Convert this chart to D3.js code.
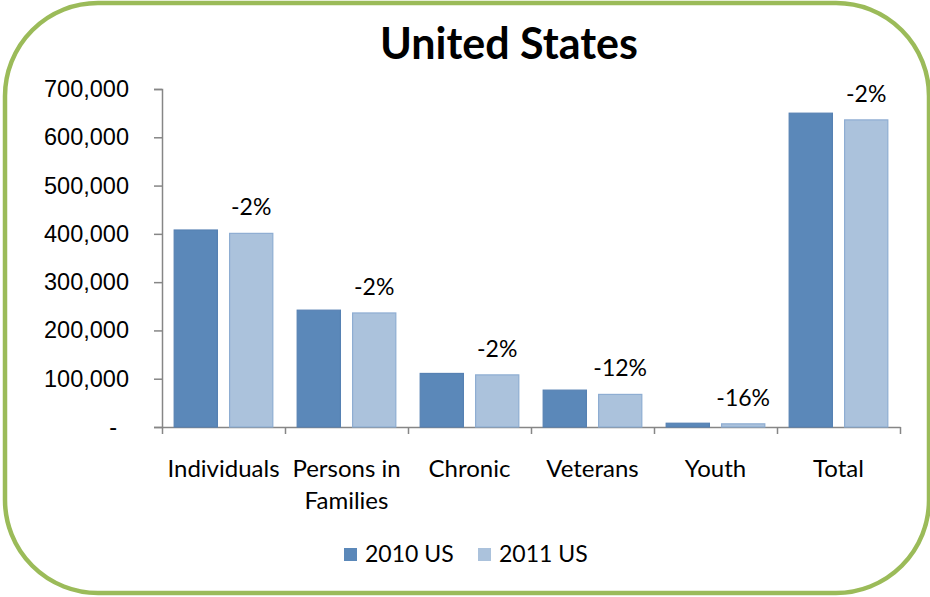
<!DOCTYPE html>
<html>
<head>
<meta charset="utf-8">
<script src="https://cdn.jsdelivr.net/npm/d3@7"></script>
<style>
  body { margin: 0; background: #fff; }
  svg { display: block; font-family: Lato, "Open Sans", sans-serif; }
</style>
</head>
<body>
<svg id="chart"></svg>
<script>
// data
const categories = ['Individuals', 'Persons in Families', 'Chronic', 'Veterans', 'Youth', 'Total'];
const seriesNames = ['2010 US', '2011 US'];
const values2010 = [407966, 241951, 110917, 76329, 7800, 649917];
const values2011 = [401012, 236181, 107937, 67495, 6550, 636017];
const changeLabels = ['-2%', '-2%', '-2%', '-12%', '-16%', '-2%'];
const yTicks = [0, 100000, 200000, 300000, 400000, 500000, 600000, 700000];

const colors = { '2010 US': '#5b88b9', '2011 US': '#abc2dc' };
const strokes = { '2010 US': '#5681b3', '2011 US': '#8eadd2' };

const width = 930;
const height = 597;

const svg = d3.select('#chart')
  .attr('width', width)
  .attr('height', height);

// rounded green frame
svg.append('rect')
  .attr('x', 5)
  .attr('y', 3)
  .attr('width', 924)
  .attr('height', 590)
  .attr('rx', 93)
  .attr('ry', 93)
  .attr('fill', '#fff')
  .attr('stroke', '#9bbb59')
  .attr('stroke-width', 4.5);

svg.append('text')
  .attr('x', 509)
  .attr('y', 59)
  .attr('text-anchor', 'middle')
  .style('font-size', '43px')
  .style('font-weight', 'bold')
  .text('United States');

const x0 = d3.scaleBand()
  .domain(categories)
  .range([162, 900])
  .padding(0);

const x1 = d3.scaleBand()
  .domain(seriesNames)
  .range([0, x0.bandwidth()])
  .paddingInner(0.22)
  .paddingOuter(0.22);

const y = d3.scaleLinear()
  .domain([0, 700000])
  .range([427, 89]);

// y axis
const yAxis = svg.append('g')
  .attr('transform', 'translate(162,0)')
  .call(d3.axisLeft(y)
    .tickValues(yTicks)
    .tickSize(8)
    .tickPadding(25)
    .tickFormat((d) => (d === 0 ? '-' : d3.format(',')(d))));

yAxis.select('.domain').attr('stroke', '#868686').attr('stroke-width', 1.5);
yAxis.selectAll('.tick line').attr('stroke', '#868686').attr('stroke-width', 1.5);
yAxis.selectAll('.tick text')
  .style('font-size', '23.5px')
  .attr('fill', '#000')
  .attr('dx', (d) => (d === 0 ? -12 : 0));

// x axis with ticks on category boundaries
const xEdges = d3.scaleLinear().domain([0, categories.length]).range([162, 900]);
const xAxis = svg.append('g')
  .attr('transform', 'translate(0,427)')
  .call(d3.axisBottom(xEdges)
    .tickValues(d3.range(categories.length + 1))
    .tickSize(7)
    .tickSizeOuter(0)
    .tickFormat(''));
xAxis.select('.domain').attr('stroke', '#868686').attr('stroke-width', 1.5);
xAxis.selectAll('.tick line').attr('stroke', '#868686').attr('stroke-width', 1.5);

// category labels, wrapped like the original
const catLabels = svg.append('g')
  .selectAll('text')
  .data(categories)
  .join('text')
  .attr('x', (d) => x0(d) + x0.bandwidth() / 2)
  .attr('y', 477)
  .attr('text-anchor', 'middle')
  .style('font-size', '24px');

catLabels.each(function (d) {
  const lines = d === 'Persons in Families' ? ['Persons in', 'Families'] : [d];
  d3.select(this).selectAll('tspan')
    .data(lines)
    .join('tspan')
    .attr('x', x0(d) + x0.bandwidth() / 2)
    .attr('dy', (l, i) => (i === 0 ? 0 : 32))
    .text((l) => l);
});

// bars
const rows = categories.map((c, i) => ({
  category: c,
  values: [
    { key: '2010 US', value: values2010[i] },
    { key: '2011 US', value: values2011[i] },
  ],
  label: changeLabels[i],
}));

const groups = svg.append('g')
  .selectAll('g')
  .data(rows)
  .join('g')
  .attr('transform', (d) => `translate(${x0(d.category)},0)`);

groups.selectAll('rect')
  .data((d) => d.values)
  .join('rect')
  .attr('x', (d) => x1(d.key))
  .attr('y', (d) => y(d.value))
  .attr('width', x1.bandwidth())
  .attr('height', (d) => y(0) - y(d.value))
  .attr('fill', (d) => colors[d.key])
  .attr('stroke', (d) => strokes[d.key])
  .attr('stroke-width', 1.2);

groups.append('text')
  .attr('x', x1('2011 US') + x1.bandwidth() / 2)
  .attr('y', (d) => y(d.values[1].value) - 18)
  .attr('text-anchor', 'middle')
  .style('font-size', '23px')
  .text((d) => d.label);

// legend
const legend = svg.append('g')
  .selectAll('g')
  .data(seriesNames)
  .join('g')
  .attr('transform', (d, i) => `translate(${344 + i * 134},548)`);

legend.append('rect')
  .attr('width', 13)
  .attr('height', 13)
  .attr('fill', (d) => colors[d]);

legend.append('text')
  .attr('x', 21)
  .attr('y', 14)
  .style('font-size', '23px')
  .text((d) => d);
</script>
</body>
</html>
